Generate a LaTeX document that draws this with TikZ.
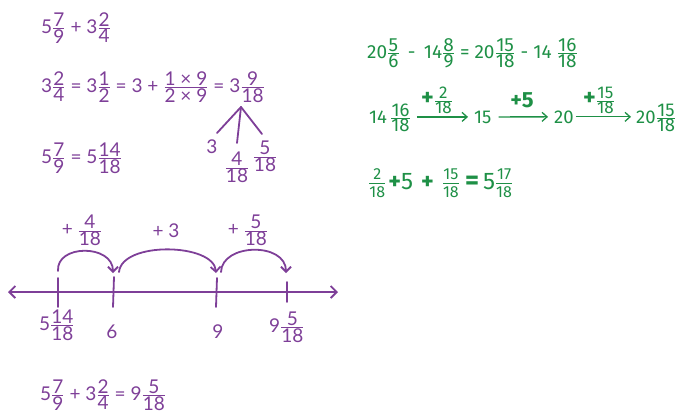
\documentclass[tikz,border=0pt]{standalone}
\usepackage{fontspec}
\setmainfont{Lato}
\newfontfamily\gfont[Numbers=Proportional]{Fira Sans}
\usetikzlibrary{arrows.meta}
\definecolor{pur}{RGB}{126,63,152}
\definecolor{grn}{RGB}{30,144,70}
\newcommand\fr[2]{$\frac{\mbox{#1}}{\mbox{#2}}$}
\newcommand\gfr[2]{$\frac{\mbox{\fontsize{16}{18}\selectfont #1}}{\mbox{\fontsize{16}{18}\selectfont #2}}$}
\newcommand\lfr[2]{$\frac{\mbox{\fontsize{17}{19}\selectfont #1}}{\mbox{\fontsize{17}{19}\selectfont #2}}$}
\tikzset{
  pp/.style={text=pur, font=\fontsize{19}{22}\selectfont, inner sep=0pt, anchor=base west},
  gg/.style={text=grn, font=\gfont\fontsize{18.5}{22}\selectfont, inner sep=0pt, anchor=base west},
  pline/.style={draw=pur, line width=1.8pt, line cap=round},
  parc/.style={draw=pur, line width=1.8pt, line cap=round, -{Straight Barb[length=5pt,width=10pt,line width=1.8pt]}},
  garrow/.style={draw=grn, line width=1.3pt, -{Straight Barb[length=5pt,width=9pt,line width=1.3pt]}},
}
\begin{document}
\begin{tikzpicture}[x=1pt,y=-1pt]
\useasboundingbox (0,0) rectangle (677,413);
% ---------- purple left part ----------
\node[pp] (l1) at (41,33) {5\fr{7}{9} + 3\fr{2}{4}};
\node[pp] (l2) at (41,92) {3\fr{2}{4} = 3\fr{1}{2} = 3 + \fr{1 × 9}{2 × 9} = 3\fr{9}{18}};
\coordinate (ap) at (241,107);
\coordinate (e1) at (217,133);
\coordinate (e2) at (237,143);
\coordinate (e3) at (262,134);
\draw[pline] (ap) -- (e1);
\draw[pline] (ap) -- (e2);
\draw[pline] (ap) -- (e3);
\node[pp, anchor=base] (t3) at (212,153) {3};
\node[pp, anchor=center] (t4) at (237,167) {\fr{4}{18}};
\node[pp, anchor=center] (t5) at (265,156) {\fr{5}{18}};
\node[pp] (l3) at (41,163) {5\fr{7}{9} = 5\fr{14}{18}};
% number line
\coordinate (nl) at (8,292);
\coordinate (nr) at (338,292);
\draw[draw=pur, line width=1.8pt, {Straight Barb[length=6pt,width=12pt,line width=1.8pt]}-{Straight Barb[length=6pt,width=12pt,line width=1.8pt]}] (nl) -- (nr);
\coordinate (k1a) at (58,278); \coordinate (k1b) at (58,307);
\coordinate (k2a) at (114,277); \coordinate (k2b) at (113,307);
\coordinate (k3a) at (217,278); \coordinate (k3b) at (216,307);
\coordinate (k4a) at (287,282); \coordinate (k4b) at (287,302);
\draw[pline] (k1a) -- (k1b);
\draw[pline] (k2a) -- (k2b);
\draw[pline] (k3a) -- (k3b);
\draw[pline] (k4a) -- (k4b);
% jumps
\coordinate (j1s) at (58,271); \coordinate (j1e) at (113,273);
\coordinate (j2s) at (119,272); \coordinate (j2e) at (216,273);
\coordinate (j3s) at (221,272); \coordinate (j3e) at (286,273);
\draw[parc] (j1s) .. controls (56,244) and (113,244) .. (j1e);
\draw[parc] (j2s) .. controls (122,241) and (214,243) .. (j2e);
\draw[parc] (j3s) .. controls (222,243) and (286,242) .. (j3e);
\node[pp, anchor=center] (a1) at (82,230) {+ \fr{4}{18}};
\node[pp, anchor=center] (a2) at (166,231) {+ 3};
\node[pp, anchor=center] (a3) at (248,230) {+ \fr{5}{18}};
% labels
\node[pp] (b1) at (39,330) {5\fr{14}{18}};
\node[pp, anchor=base] (b2) at (112,338) {6};
\node[pp, anchor=base] (b3) at (218,338) {9};
\node[pp] (b4) at (269,332) {9\fr{5}{18}};
\node[pp] (l4) at (40,400) {5\fr{7}{9} + 3\fr{2}{4} = 9\fr{5}{18}};
% ---------- green right part ----------
\node[gg, font=\gfont\fontsize{19}{22}\selectfont] (g1) at (367,58) {20\fr{5}{6} \,-\, 14\fr{8}{9} = 20\fr{15}{18} - 14 \fr{16}{18}};
\node[gg] (n1) at (369,123) {14\,\fr{16}{18}};
\node[gg] (n2) at (474,123) {15};
\node[gg] (n3) at (554,123) {20};
\node[gg] (n4) at (636,123) {20\fr{15}{18}};
\draw[garrow, shorten <=6pt, shorten >=6pt] (n1.east |- n2.west) -- (n2.west);
\draw[garrow, shorten <=7pt, shorten >=6pt] (n2.east) -- (n3.west);
\draw[garrow, shorten <=2pt, shorten >=5pt] (n3.east) -- (n4.west |- n3.east);
\node[gg, anchor=south] (p1) at (437,114) {{\fontsize{24}{26}\selectfont\bfseries +}\lfr{2}{18}};
\node[gg, anchor=south] (p2) at (522,108) {\fontsize{22}{26}\selectfont\bfseries +5};
\node[gg, anchor=south] (p3) at (599,114) {{\fontsize{24}{26}\selectfont\bfseries +}\lfr{15}{18}};
\node[gg, font=\gfont\fontsize{24}{26}\selectfont] (g3) at (368,189) {\gfr{2}{18}\hspace{2pt}{\bfseries +}5\hspace{8pt}{\bfseries +}\hspace{8pt}\gfr{15}{18}\hspace{5pt}{\fontsize{27}{28}\selectfont\bfseries =}\hspace{4pt}5\gfr{17}{18}};
\end{tikzpicture}
\end{document}
